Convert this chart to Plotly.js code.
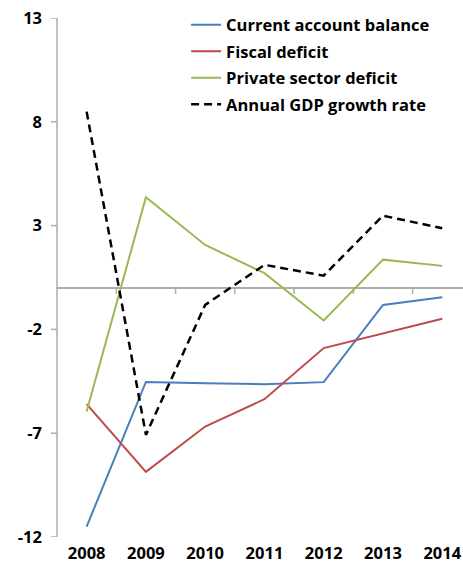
<!DOCTYPE html>
<html>
<head>
<meta charset="utf-8">
<script src="https://cdn.plot.ly/plotly-3.0.1.min.js"></script>
<style>
  html, body { margin: 0; padding: 0; background: #fff; }
  #chart { width: 463px; height: 570px; }
</style>
</head>
<body>
<div id="chart"></div>
<script>
// Years on the horizontal axis
const years = ['2008', '2009', '2010', '2011', '2012', '2013', '2014'];

// Balances and growth, % of GDP
const currentAccount = [-11.5, -4.53, -4.59, -4.64, -4.54, -0.82, -0.45];
const fiscalDeficit = [-5.6, -8.86, -6.68, -5.36, -2.9, -2.2, -1.49];
const privateDeficit = [-5.95, 4.37, 2.07, 0.71, -1.57, 1.36, 1.06];
const gdpGrowth = [8.49, -7.08, -0.82, 1.11, 0.59, 3.48, 2.87];

const yTicks = [-12, -7, -2, 3, 8, 13];
// Category boundaries where the zero axis carries its tick marks
const boundaryTicks = [0.5, 1.5, 2.5, 3.5, 4.5, 5.5];

const FONT = 'Open Sans, Noto Sans, sans-serif';
const FS = 16.5;
const AXIS_GRAY = '#ADADAD';
const TICK_LEN = 6;
const xRange = [-0.5, 6.35];
const yRange = [-12, 13];

function series(name, y, color, dash, width, group) {
  return {
    type: 'scatter', mode: 'lines', name: name,
    x: years, y: y,
    legendgroup: group,
    line: { color: color, width: width, dash: dash },
    hoverinfo: 'skip'
  };
}

const traces = [
  series('Current account balance', currentAccount, '#4A7EBB', 'solid', 2, 'a'),
  series('Fiscal deficit', fiscalDeficit, '#BE4B48', 'solid', 2, 'b'),
  series('Private sector deficit', privateDeficit, '#98B954', 'solid', 2, 'c'),
  series('Annual GDP growth rate', gdpGrowth, '#000000', '8px,5px', 2.5, 'd')
];

const axisLine = { color: AXIS_GRAY, width: 1.5 };

// Vertical axis line along the left edge of the plot
const yAxisLine = [{
  type: 'line', layer: 'above',
  xref: 'paper', x0: 0, x1: 0,
  yref: 'paper', y0: 0, y1: 1,
  line: axisLine
}];

// Outward tick marks on the vertical axis
const yTickMarks = yTicks.map(t => ({
  type: 'line', layer: 'above',
  xref: 'paper', xsizemode: 'pixel', xanchor: 0, x0: 0, x1: -TICK_LEN,
  yref: 'y', y0: t, y1: t,
  line: axisLine
}));

// Short downward tick marks on the zero axis, between the years
const boundaryMarks = boundaryTicks.map(b => ({
  type: 'line', layer: 'below',
  xref: 'x', x0: b, x1: b,
  yref: 'y', ysizemode: 'pixel', yanchor: 0, y0: 0, y1: -TICK_LEN,
  line: axisLine
}));

const layout = {
  width: 463, height: 570,
  margin: { l: 57, r: 0, t: 18, b: 33 },
  paper_bgcolor: '#ffffff', plot_bgcolor: '#ffffff',
  font: { family: FONT, size: FS, color: '#000000' },
  showlegend: true,
  legend: {
    x: 0.318, y: 1.020, xanchor: 'left', yanchor: 'top',
    bgcolor: 'rgba(0,0,0,0)', tracegroupgap: 2,
    font: { family: FONT, size: FS, color: '#000000', weight: 'bold' }
  },
  shapes: yAxisLine.concat(yTickMarks, boundaryMarks),
  xaxis: {
    type: 'category', categoryorder: 'array', categoryarray: years,
    range: xRange, showline: false, showgrid: false, zeroline: false,
    ticks: '', ticklabelstandoff: 4,
    tickfont: { family: FONT, size: FS, color: '#000000', weight: 'bold' },
    fixedrange: true
  },
  yaxis: {
    range: yRange, tickmode: 'array', tickvals: yTicks, ticktext: yTicks.map(String),
    showline: false, ticks: '',
    showgrid: false,
    // the horizontal axis crosses at zero
    zeroline: true, zerolinecolor: AXIS_GRAY, zerolinewidth: 1.5,
    ticklabelstandoff: 8 + TICK_LEN,
    tickfont: { family: FONT, size: FS, color: '#000000', weight: 'bold' },
    fixedrange: true
  }
};

Plotly.newPlot('chart', traces, layout, { displayModeBar: false, staticPlot: true });
</script>
</body>
</html>
